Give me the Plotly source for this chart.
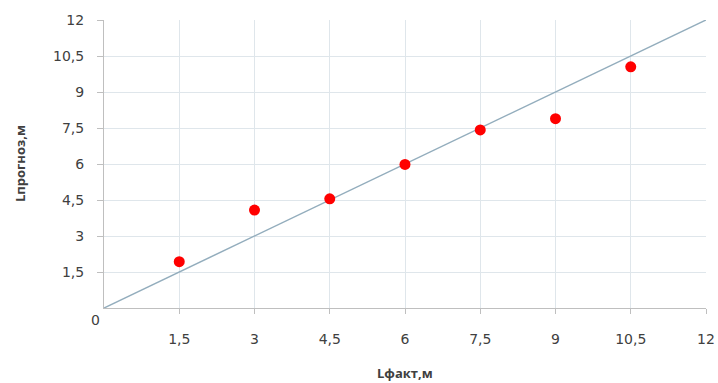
import plotly.graph_objects as go

l_fact = [1.5, 3, 4.5, 6, 7.5, 9, 10.5]
l_prognoz = [1.93, 4.08, 4.55, 5.98, 7.42, 7.89, 10.05]
line_x = [0, 12]
line_y = [0, 12]
tick_vals = [1.5, 3, 4.5, 6, 7.5, 9, 10.5, 12]

font_fam = "DejaVu Sans, Open Sans, sans-serif"
txt = "#404040"

L, R, T, B = 104, 12, 20, 75
W, H = 718, 383
pw, ph = W - L - R, H - T - B

fig = go.Figure()
fig.add_trace(go.Scatter(x=line_x, y=line_y, mode="lines",
                         line=dict(color="#93adbd", width=1.5), showlegend=False))
fig.add_trace(go.Scatter(x=l_fact, y=l_prognoz, mode="markers",
                         marker=dict(color="#ff0000", size=11, line=dict(width=0)),
                         showlegend=False))

fig.update_layout(
    width=W, height=H,
    margin=dict(l=L, r=R, t=T, b=B, autoexpand=False),
    paper_bgcolor="white", plot_bgcolor="white",
    separators=", ",
    font=dict(family=font_fam, size=14, color=txt),
    xaxis=dict(range=[0, 12], tickvals=tick_vals, showgrid=True,
               gridcolor="#dfe6eb", gridwidth=1, showline=True,
               linecolor="#bfbfbf", linewidth=1, ticks="outside",
               ticklen=5, tickcolor="#bfbfbf", zeroline=False,
               ticklabelstandoff=13, automargin=False),
    yaxis=dict(range=[0, 12], tickvals=tick_vals, showgrid=True,
               gridcolor="#dfe6eb", gridwidth=1, showline=True,
               linecolor="#bfbfbf", linewidth=1, ticks="outside",
               ticklen=6, tickcolor="#bfbfbf", zeroline=False,
               ticklabelstandoff=10, automargin=False),
    annotations=[
        dict(text="0", x=0, y=0, xref="x", yref="y", showarrow=False,
             xshift=-9, yshift=-12, font=dict(size=14, color=txt)),
        dict(text="<b>Lфакт,м</b>", xref="paper", yref="paper",
             x=0.5, y=-(373 - (H - B)) / ph, yanchor="middle",
             showarrow=False, font=dict(family="Open Sans, sans-serif", size=13, color=txt)),
        dict(text="<b>Lпрогноз,м</b>", xref="paper", yref="paper",
             x=-(L - 20) / pw, y=0.5, xanchor="center",
             showarrow=False, textangle=-90,
             font=dict(family="Open Sans, sans-serif", size=13, color=txt)),
    ],
)
fig.write_html("out.html", config={"displayModeBar": False},
               post_script="document.body.style.margin='0';")
